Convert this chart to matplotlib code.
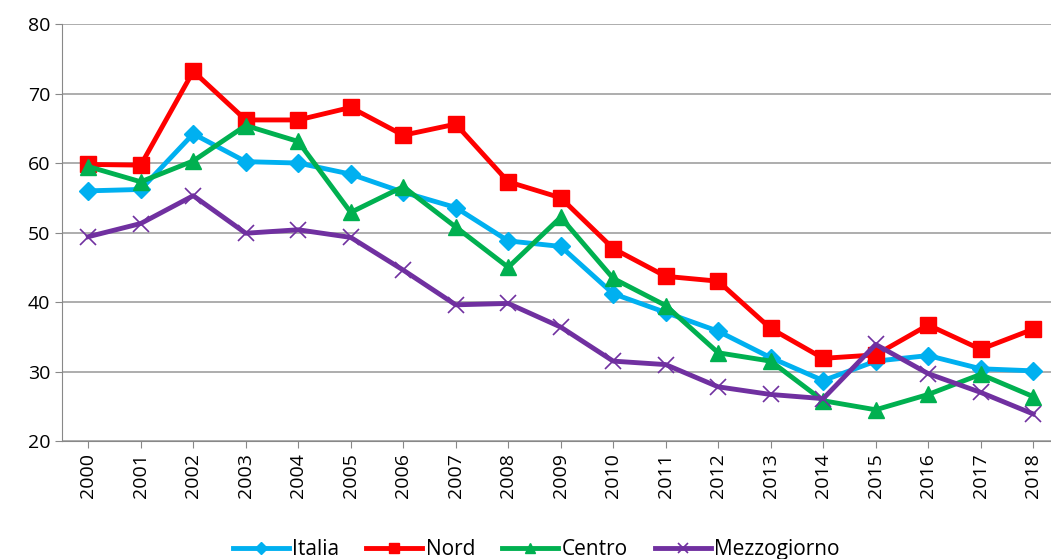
import matplotlib
matplotlib.use("Agg")
import matplotlib.pyplot as plt

anni = [str(a) for a in range(2000, 2019)]
italia = [56.0, 56.2, 64.2, 60.2, 60.0, 58.4, 55.8, 53.6, 48.8, 48.0, 41.2, 38.5, 35.8, 32.0, 28.7, 31.5, 32.3, 30.4, 30.1]
nord = [59.8, 59.7, 73.2, 66.2, 66.2, 68.0, 64.0, 65.6, 57.3, 55.0, 47.7, 43.7, 43.0, 36.2, 31.9, 32.4, 36.7, 33.2, 36.1]
centro = [59.5, 57.3, 60.3, 65.4, 63.1, 52.9, 56.6, 50.8, 45.0, 52.2, 43.4, 39.5, 32.7, 31.5, 25.8, 24.5, 26.7, 29.6, 26.4]
mezzogiorno = [49.4, 51.3, 55.3, 49.9, 50.4, 49.3, 44.6, 39.6, 39.8, 36.4, 31.5, 31.0, 27.8, 26.7, 26.1, 33.9, 29.7, 27.0, 23.9]

plt.rcParams['font.family'] = ['Open Sans', 'DejaVu Sans']

fig = plt.figure(figsize=(10.51, 5.59), dpi=100)
ax = fig.add_axes([0.059, 0.211, 0.949, 0.746])

x = range(len(anni))
ax.plot(x, italia, color='#00b0f0', lw=3.5, marker='D', ms=9, label='Italia')
ax.plot(x, nord, color='#ff0000', lw=3.5, marker='s', ms=11, label='Nord')
ax.plot(x, centro, color='#00b050', lw=3.5, marker='^', ms=11, label='Centro')
ax.plot(x, mezzogiorno, color='#7030a0', lw=3.5, marker='x', ms=11, mew=1.2, label='Mezzogiorno')

ax.set_ylim(20, 80)
ax.set_xlim(-0.5, len(anni) - 0.5)
ax.set_yticks(range(20, 81, 10))
ax.set_xticks(list(x))
ax.set_xticklabels(anni, rotation=90)
ax.tick_params(axis='both', labelsize=14, color='#888888', length=5)
ax.grid(axis='y', color='#a0a0a0', lw=1.2)
ax.set_axisbelow(True)
for s in ['top', 'right']:
    ax.spines[s].set_visible(False)
for s in ['left', 'bottom']:
    ax.spines[s].set_color('#888888')

fig.legend(loc='lower center', bbox_to_anchor=(0.51, -0.035), ncol=4, frameon=False,
           fontsize=15, handlelength=2.7, handletextpad=0.15, columnspacing=1.3,
           markerscale=0.7)

fig.savefig('out.png', dpi=100)
